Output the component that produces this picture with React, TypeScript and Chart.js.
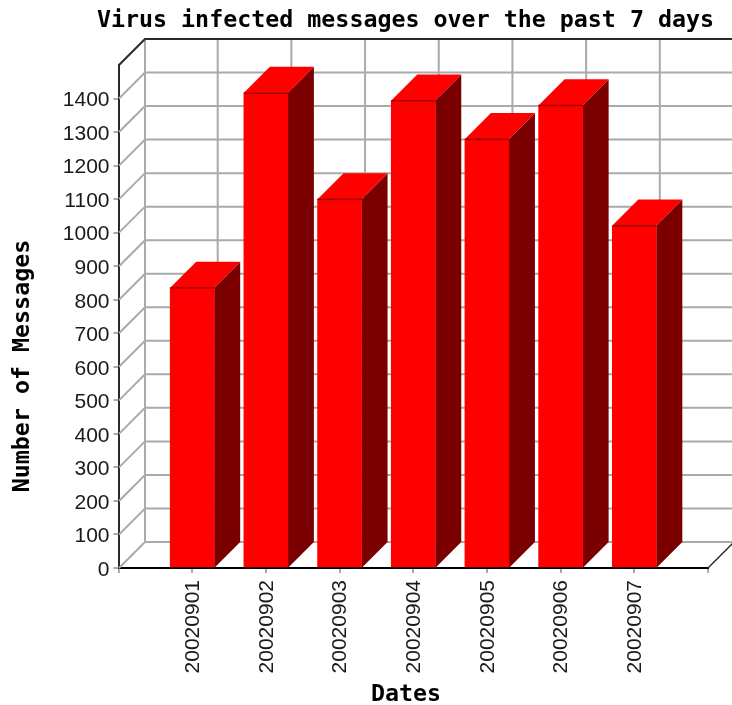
import React, { useEffect, useRef } from "react";
import { Chart, registerables } from "chart.js";

Chart.register(...registerables);

const chartTitle = "Virus infected messages over the past 7 days";
const xTitle = "Dates";
const yTitle = "Number of Messages";
const dates = ["20020901", "20020902", "20020903", "20020904", "20020905", "20020906", "20020907"];
const messages = [836, 1417, 1100, 1394, 1279, 1380, 1021];

const DEPTH = 26;
const SANS = '"Liberation Sans", Arial, sans-serif';
const MONO = '"DejaVu Sans Mono", monospace';
const GRID = "#aaaaaa";
const AXIS = "#2a2a2a";

const realBars = (chart: any) => {
  const meta = chart.getDatasetMeta(0);
  return meta.data.filter((_: any, i: number) => meta._parsed[i] && meta._parsed[i].y != null && !isNaN(meta._parsed[i].y));
};

const cube = {
  id: "cube",
  beforeDatasetsDraw(chart: any) {
    const { ctx, chartArea: a, scales } = chart;
    const line = (pts: number[][], color: string, w = 2) => {
      ctx.beginPath();
      ctx.strokeStyle = color;
      ctx.lineWidth = w;
      pts.forEach((p, i) => (i ? ctx.lineTo(p[0], p[1]) : ctx.moveTo(p[0], p[1])));
      ctx.stroke();
    };
    const left = a.left + 0.5;
    const W = chart.width + 2;
    ctx.save();
    scales.y.ticks.forEach((t: any) => {
      const y = scales.y.getPixelForValue(t.value);
      if (t.value === scales.y.max) return;
      line([[left, y], [left + DEPTH, y - DEPTH], [W, y - DEPTH]], GRID);
    });
    const topY = a.top - DEPTH;
    const botY = a.bottom - DEPTH;
    scales.x.ticks.forEach((_: any, i: number) => {
      if (i === 0) return;
      const x = scales.x.getPixelForTick(i) + DEPTH - 0.5;
      line([[x, topY], [x, botY]], GRID);
    });
    line([[left + DEPTH, topY], [left + DEPTH, botY]], GRID);
    line([[left, a.top], [left + DEPTH, topY], [W, topY]], AXIS);
    line([[a.right, a.bottom], [a.right + DEPTH, botY]], AXIS, 1.5);
    realBars(chart).forEach((bar: any) => {
      const half = bar.width / 2;
      const l = bar.x - half, r = bar.x + half, t = bar.y, b = a.bottom;
      ctx.fillStyle = "#7a0000";
      ctx.beginPath();
      ctx.moveTo(r, t); ctx.lineTo(r + DEPTH, t - DEPTH); ctx.lineTo(r + DEPTH, b - DEPTH); ctx.lineTo(r, b);
      ctx.closePath(); ctx.fill();
      ctx.fillStyle = "#ff0000";
      ctx.beginPath();
      ctx.moveTo(l, t); ctx.lineTo(l + DEPTH, t - DEPTH); ctx.lineTo(r + DEPTH, t - DEPTH); ctx.lineTo(r, t);
      ctx.closePath(); ctx.fill();
    });
    ctx.restore();
  },
  afterDatasetsDraw(chart: any) {
    const { ctx } = chart;
    ctx.save();
    realBars(chart).forEach((bar: any) => {
      ctx.fillStyle = "#a00000";
      ctx.fillRect(bar.x - bar.width / 2, bar.y - 0.5, bar.width, 1.5);
    });
    ctx.restore();
  },
  afterDraw(chart: any) {
    const { ctx } = chart;
    ctx.save();
    ctx.fillStyle = "#000000";
    ctx.font = `bold 23.3px ${MONO}`;
    ctx.textAlign = "center";
    ctx.textBaseline = "middle";
    ctx.fillText(chartTitle, 405.5, 21);
    ctx.fillText(xTitle, 406, 695);
    ctx.translate(22.5, 366);
    ctx.rotate(-Math.PI / 2);
    ctx.fillText(yTitle, 0, 0);
    ctx.restore();
  },
};

export default function App() {
  const ref = useRef<HTMLCanvasElement>(null);
  useEffect(() => {
    const chart = new Chart(ref.current as any, {
      type: "bar",
      data: {
        labels: ["", ...dates, ""],
        datasets: [
          {
            label: "Messages",
            data: [null, ...messages, null],
            backgroundColor: "#ff0000",
            borderWidth: 0,
            barThickness: 44,
          } as any,
        ],
      },
      options: {
        responsive: false,
        animation: false,
        layout: { padding: { top: 65, right: 24, left: 0, bottom: 0 } },
        plugins: { legend: { display: false }, tooltip: { enabled: false }, title: { display: false } },
        scales: {
          x: {
            offset: false,
            afterFit: (s: any) => { s.height = 137; s.paddingLeft = 0; s.paddingRight = 0; },
            border: { display: true, color: "#000000", width: 2 },
            grid: { offset: false, drawOnChartArea: false, drawTicks: true, tickLength: 5, color: GRID, lineWidth: 2 },
            ticks: {
              autoSkip: false,
              minRotation: 90,
              maxRotation: 90,
              padding: 7,
              labelOffset: 1,
              color: "#1a1a1a",
              font: { family: SANS, size: 21 },
            },
          },
          y: {
            min: 0,
            max: 1500,
            afterFit: (s: any) => { s.width = 118.5; },
            border: { display: true, color: AXIS, width: 2 },
            grid: {
              drawOnChartArea: false,
              drawTicks: true,
              tickLength: 5,
              lineWidth: 2,
              color: (c: any) => (c.tick && c.tick.value === 1500 ? "rgba(0,0,0,0)" : GRID),
            },
            ticks: {
              stepSize: 100,
              padding: 4,
              labelOffset: 2,
              color: "#1a1a1a",
              font: { family: SANS, size: 21 },
              callback: (v: any) => (v === 1500 ? "" : String(v)),
            },
          },
        },
      },
      plugins: [cube],
    } as any);
    return () => chart.destroy();
  }, []);
  return (
    <div style={{ position: "absolute", left: 0, top: 0, width: 732, height: 705 }}>
      <canvas ref={ref} width={732} height={705} style={{ display: "block" }} />
    </div>
  );
}
